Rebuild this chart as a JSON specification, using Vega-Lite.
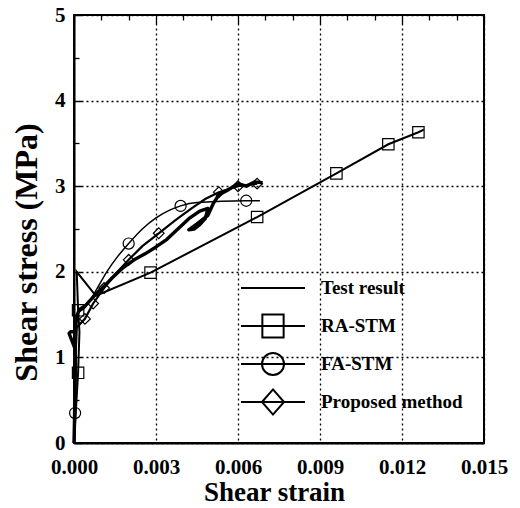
{
  "$schema": "https://vega.github.io/schema/vega-lite/v6.json",
  "width": 410,
  "height": 428,
  "autosize": "none",
  "padding": {"left": 74, "top": 15, "right": 36, "bottom": 65},
  "background": "white",
  "config": {
    "view": {"stroke": "black", "strokeWidth": 2},
    "font": "Liberation Serif"
  },
  "datasets": {
    "curves": [
      {"series": "Test result", "strain": 0, "stress": 0},
      {"series": "Test result", "strain": 0.00002, "stress": 0.3},
      {"series": "Test result", "strain": 0.00003, "stress": 0.6},
      {"series": "Test result", "strain": 0.00005, "stress": 0.9},
      {"series": "Test result", "strain": 0.00004, "stress": 1.1},
      {"series": "Test result", "strain": -0.00018, "stress": 1.28},
      {"series": "Test result", "strain": -0.00012, "stress": 1.3},
      {"series": "Test result", "strain": 0.00004, "stress": 1.3},
      {"series": "Test result", "strain": 0.00008, "stress": 1.42},
      {"series": "Test result", "strain": 0.00012, "stress": 1.5},
      {"series": "Test result", "strain": 0.0002, "stress": 1.56},
      {"series": "Test result", "strain": 0.0004, "stress": 1.6},
      {"series": "Test result", "strain": 0.0006, "stress": 1.67},
      {"series": "Test result", "strain": 0.0008, "stress": 1.74},
      {"series": "Test result", "strain": 0.0011, "stress": 1.83},
      {"series": "Test result", "strain": 0.0014, "stress": 1.93},
      {"series": "Test result", "strain": 0.0018, "stress": 2.05},
      {"series": "Test result", "strain": 0.0022, "stress": 2.14},
      {"series": "Test result", "strain": 0.0026, "stress": 2.21},
      {"series": "Test result", "strain": 0.003, "stress": 2.29},
      {"series": "Test result", "strain": 0.0034, "stress": 2.38},
      {"series": "Test result", "strain": 0.0038, "stress": 2.5},
      {"series": "Test result", "strain": 0.0042, "stress": 2.62},
      {"series": "Test result", "strain": 0.0046, "stress": 2.71},
      {"series": "Test result", "strain": 0.0049, "stress": 2.74},
      {"series": "Test result", "strain": 0.0048, "stress": 2.62},
      {"series": "Test result", "strain": 0.0046, "stress": 2.55},
      {"series": "Test result", "strain": 0.0044, "stress": 2.5},
      {"series": "Test result", "strain": 0.0042, "stress": 2.49},
      {"series": "Test result", "strain": 0.0045, "stress": 2.56},
      {"series": "Test result", "strain": 0.0049, "stress": 2.66},
      {"series": "Test result", "strain": 0.0051, "stress": 2.8},
      {"series": "Test result", "strain": 0.0053, "stress": 2.9},
      {"series": "Test result", "strain": 0.0056, "stress": 2.95},
      {"series": "Test result", "strain": 0.006, "stress": 3.03},
      {"series": "Test result", "strain": 0.0063, "stress": 3.0},
      {"series": "Test result", "strain": 0.0066, "stress": 3.05},
      {"series": "Test result", "strain": 0.0069, "stress": 3.04},

      {"series": "RA-STM", "strain": 0, "stress": 0},
      {"series": "RA-STM", "strain": 0.00015, "stress": 0.82},
      {"series": "RA-STM", "strain": 0.0002, "stress": 1.3},
      {"series": "RA-STM", "strain": 0.00015, "stress": 1.55},
      {"series": "RA-STM", "strain": 0.0001, "stress": 2.0},
      {"series": "RA-STM", "strain": 0.0008, "stress": 1.72},
      {"series": "RA-STM", "strain": 0.0028, "stress": 1.99},
      {"series": "RA-STM", "strain": 0.0067, "stress": 2.64},
      {"series": "RA-STM", "strain": 0.0096, "stress": 3.15},
      {"series": "RA-STM", "strain": 0.0115, "stress": 3.49},
      {"series": "RA-STM", "strain": 0.0126, "stress": 3.63},
      {"series": "RA-STM", "strain": 0.0128, "stress": 3.66},

      {"series": "FA-STM", "strain": 0, "stress": 0},
      {"series": "FA-STM", "strain": 0.00004, "stress": 0.35},
      {"series": "FA-STM", "strain": 0.00008, "stress": 1.0},
      {"series": "FA-STM", "strain": 0.0001, "stress": 1.5},
      {"series": "FA-STM", "strain": 0.0004, "stress": 1.58},
      {"series": "FA-STM", "strain": 0.0008, "stress": 1.78},
      {"series": "FA-STM", "strain": 0.0012, "stress": 2.0},
      {"series": "FA-STM", "strain": 0.0016, "stress": 2.18},
      {"series": "FA-STM", "strain": 0.002, "stress": 2.33},
      {"series": "FA-STM", "strain": 0.0025, "stress": 2.5},
      {"series": "FA-STM", "strain": 0.003, "stress": 2.63},
      {"series": "FA-STM", "strain": 0.0035, "stress": 2.72},
      {"series": "FA-STM", "strain": 0.0039, "stress": 2.77},
      {"series": "FA-STM", "strain": 0.0045, "stress": 2.81},
      {"series": "FA-STM", "strain": 0.0063, "stress": 2.83},
      {"series": "FA-STM", "strain": 0.0068, "stress": 2.83},

      {"series": "Proposed method", "strain": 0, "stress": 0},
      {"series": "Proposed method", "strain": 0.00005, "stress": 1.0},
      {"series": "Proposed method", "strain": 0.0001, "stress": 1.35},
      {"series": "Proposed method", "strain": 0.0004, "stress": 1.45},
      {"series": "Proposed method", "strain": 0.0007, "stress": 1.63},
      {"series": "Proposed method", "strain": 0.0011, "stress": 1.81},
      {"series": "Proposed method", "strain": 0.0015, "stress": 1.97},
      {"series": "Proposed method", "strain": 0.002, "stress": 2.14},
      {"series": "Proposed method", "strain": 0.0025, "stress": 2.3},
      {"series": "Proposed method", "strain": 0.0031, "stress": 2.45},
      {"series": "Proposed method", "strain": 0.0037, "stress": 2.6},
      {"series": "Proposed method", "strain": 0.0043, "stress": 2.74},
      {"series": "Proposed method", "strain": 0.0048, "stress": 2.85},
      {"series": "Proposed method", "strain": 0.0053, "stress": 2.93},
      {"series": "Proposed method", "strain": 0.006, "stress": 3.0},
      {"series": "Proposed method", "strain": 0.0067, "stress": 3.03}
    ],
    "markers": [
      {"series": "RA-STM", "strain": 0.00015, "stress": 0.82},
      {"series": "RA-STM", "strain": 0.00015, "stress": 1.55},
      {"series": "RA-STM", "strain": 0.0028, "stress": 1.99},
      {"series": "RA-STM", "strain": 0.0067, "stress": 2.64},
      {"series": "RA-STM", "strain": 0.0096, "stress": 3.15},
      {"series": "RA-STM", "strain": 0.0115, "stress": 3.49},
      {"series": "RA-STM", "strain": 0.0126, "stress": 3.63},
      {"series": "FA-STM", "strain": 0.00004, "stress": 0.35},
      {"series": "FA-STM", "strain": 0.002, "stress": 2.33},
      {"series": "FA-STM", "strain": 0.0039, "stress": 2.77},
      {"series": "FA-STM", "strain": 0.0063, "stress": 2.83},
      {"series": "Proposed method", "strain": 0.0004, "stress": 1.45},
      {"series": "Proposed method", "strain": 0.0007, "stress": 1.63},
      {"series": "Proposed method", "strain": 0.0011, "stress": 1.81},
      {"series": "Proposed method", "strain": 0.002, "stress": 2.14},
      {"series": "Proposed method", "strain": 0.0031, "stress": 2.45},
      {"series": "Proposed method", "strain": 0.0053, "stress": 2.93},
      {"series": "Proposed method", "strain": 0.006, "stress": 3.0},
      {"series": "Proposed method", "strain": 0.0067, "stress": 3.03}
    ]
  },
  "encoding": {
    "x": {
      "field": "strain",
      "type": "quantitative",
      "scale": {"domain": [0, 0.015], "nice": false, "zero": false},
      "axis": {
        "title": "Shear strain",
        "domainColor": "black",
        "domainWidth": 2,
        "values": [0, 0.001, 0.002, 0.003, 0.004, 0.005, 0.006, 0.007, 0.008, 0.009, 0.01, 0.011, 0.012, 0.013, 0.014, 0.015],
        "labelExpr": "round(datum.value*1000) % 3 == 0 ? format(datum.value, '.3f') : ''",
        "ticks": false,
        "tickSize": 0,
        "grid": true,
        "gridDash": {"condition": {"test": "round(datum.value*1000) % 3 == 0", "value": [10, 3, 2, 3, 2, 3, 2, 3, 2, 3, 2, 3, 2, 3, 2, 3, 2, 3, 2, 3, 2, 3, 2, 3, 2, 3, 2, 3, 2, 3, 2, 3, 2, 3, 2, 3, 2, 3, 2, 3, 2, 3, 2, 3, 2, 3, 2, 3, 2, 3, 2, 3, 2, 3, 2, 3, 2, 3, 2, 3, 2, 3, 2, 3, 2, 3, 2, 3, 2, 3, 2, 3, 2, 3, 2, 3, 2, 3, 2, 3, 2, 3, 2, 3, 2, 3, 2, 3, 2, 3, 2, 3, 2, 3, 2, 3, 2, 3, 2, 3, 2, 3, 2, 3, 2, 3, 2, 3, 2, 3, 2, 3, 2, 3, 2, 3, 2, 3, 2, 3, 2, 3, 2, 3, 2, 3, 2, 3, 2, 3, 2, 3, 2, 3, 2, 3, 2, 3, 2, 3, 2, 3, 2, 3, 2, 3, 2, 3, 2, 3, 2, 3, 2, 3, 2, 3, 2, 3, 2, 3, 2, 3, 2, 3, 2, 3, 2, 3, 2, 3, 2, 3, 2, 3]}, "value": [5, 1000]},
        "gridColor": "black",
        "gridWidth": 1.3,
        "gridOpacity": 1,
        "labelFont": "Liberation Serif",
        "labelFontWeight": "bold",
        "labelFontSize": 21,
        "labelColor": "black",
        "labelPadding": 13,
        "labelFlush": false,
        "labelOverlap": false,
        "titleFont": "Liberation Serif",
        "titleFontWeight": "bold",
        "titleFontSize": 27,
        "titleColor": "black",
        "titleX": 200,
        "titleY": 57,
        "titleBaseline": "alphabetic",
        "titleAlign": "center"
      }
    },
    "y": {
      "field": "stress",
      "type": "quantitative",
      "scale": {"domain": [0, 5], "nice": false},
      "axis": {
        "title": "Shear stress (MPa)",
        "domainColor": "black",
        "domainWidth": 2,
        "values": [0, 0.5, 1, 1.5, 2, 2.5, 3, 3.5, 4, 4.5, 5],
        "labelExpr": "datum.value % 1 == 0 ? format(datum.value, 'd') : ''",
        "ticks": false,
        "tickSize": 0,
        "grid": true,
        "gridDash": {"condition": {"test": "datum.value % 1 == 0", "value": [9, 3, 2, 3, 2, 3, 2, 3, 2, 3, 2, 3, 2, 3, 2, 3, 2, 3, 2, 3, 2, 3, 2, 3, 2, 3, 2, 3, 2, 3, 2, 3, 2, 3, 2, 3, 2, 3, 2, 3, 2, 3, 2, 3, 2, 3, 2, 3, 2, 3, 2, 3, 2, 3, 2, 3, 2, 3, 2, 3, 2, 3, 2, 3, 2, 3, 2, 3, 2, 3, 2, 3, 2, 3, 2, 3, 2, 3, 2, 3, 2, 3, 2, 3, 2, 3, 2, 3, 2, 3, 2, 3, 2, 3, 2, 3, 2, 3, 2, 3, 2, 3, 2, 3, 2, 3, 2, 3, 2, 3, 2, 3, 2, 3, 2, 3, 2, 3, 2, 3, 2, 3, 2, 3, 2, 3, 2, 3, 2, 3, 2, 3, 2, 3, 2, 3, 2, 3, 2, 3, 2, 3, 2, 3, 2, 3, 2, 3, 2, 3, 2, 3, 2, 3, 2, 3, 2, 3, 2, 3, 2, 3, 2, 3, 2, 3, 2, 3, 2, 3, 2, 3, 2, 3]}, "value": [5, 1000]},
        "gridColor": "black",
        "gridWidth": 1.3,
        "gridOpacity": 1,
        "labelFont": "Liberation Serif",
        "labelFontWeight": "bold",
        "labelFontSize": 21,
        "labelColor": "black",
        "labelPadding": 9,
        "labelFlush": false,
        "labelOverlap": false,
        "titleFont": "Liberation Serif",
        "titleFontWeight": "bold",
        "titleFontSize": 32,
        "titleColor": "black",
        "titleAngle": -90,
        "titleX": -38,
        "titleY": 237,
        "titleBaseline": "alphabetic",
        "titleAlign": "center"
      }
    }
  },
  "layer": [
    {
      "data": {"name": "curves"},
      "transform": [{"filter": "datum.series == 'Test result'"}],
      "mark": {"type": "line", "color": "black", "strokeWidth": 3.4, "strokeJoin": "round"},
      "encoding": {"order": {"value": null}}
    },
    {
      "data": {"name": "curves"},
      "transform": [{"filter": "datum.series == 'RA-STM'"}],
      "mark": {"type": "line", "color": "black", "strokeWidth": 2},
      "encoding": {"order": {"value": null}}
    },
    {
      "data": {"name": "curves"},
      "transform": [{"filter": "datum.series == 'FA-STM'"}],
      "mark": {"type": "line", "color": "black", "strokeWidth": 1.5, "interpolate": "monotone"},
      "encoding": {"order": {"value": null}}
    },
    {
      "data": {"name": "curves"},
      "transform": [{"filter": "datum.series == 'Proposed method'"}],
      "mark": {"type": "line", "color": "black", "strokeWidth": 2.2},
      "encoding": {"order": {"value": null}}
    },
    {
      "data": {"name": "markers"},
      "mark": {"type": "point", "filled": false, "color": "black", "strokeWidth": 1.2, "opacity": 1},
      "encoding": {
        "shape": {"field": "series", "type": "nominal", "scale": {"domain": ["RA-STM", "FA-STM", "Proposed method"], "range": ["square", "circle", "diamond"]}, "legend": null},
        "size": {"field": "series", "type": "nominal", "scale": {"domain": ["RA-STM", "FA-STM", "Proposed method"], "range": [130, 115, 170]}, "legend": null}
      }
    },
    {
      "data": {"values": []},
      "mark": {"type": "point", "filled": false, "color": "black", "opacity": 1},
      "encoding": {
        "shape": {
          "field": "label",
          "type": "nominal",
          "scale": {
            "domain": ["Test result", "RA-STM", "FA-STM", "Proposed method"],
            "range": [
              "M0,-0.66M0,0.66M-1.684,0H1.684",
              "M0,-0.66M0,0.66M-1.684,0H1.684M-0.56,-0.6H0.56V0.6H-0.56Z",
              "M0,-0.66M0,0.66M-1.684,0H1.684M-0.58,0A0.58,0.58 0 1,0 0.58,0A0.58,0.58 0 1,0 -0.58,0Z",
              "M-1.684,0H1.684M-0.58,0L0,-0.66L0.58,0L0,0.66Z"
            ]
          },
          "legend": {
            "title": null,
            "orient": "none",
            "legendX": 179,
            "legendY": 253,
            "padding": 0,
            "symbolSize": 1444,
            "symbolStrokeWidth": 2,
            "symbolStrokeColor": "black",
            "symbolFillColor": "transparent",
            "symbolOpacity": 1,
            "labelFont": "Liberation Serif",
            "labelFontWeight": "bold",
            "labelFontSize": 19,
            "labelColor": "black",
            "labelOffset": 28,
            "labelLimit": 300,
            "rowPadding": 1
          }
        }
      }
    }
  ],
  "resolve": {"scale": {"shape": "independent", "size": "independent"}}
}
